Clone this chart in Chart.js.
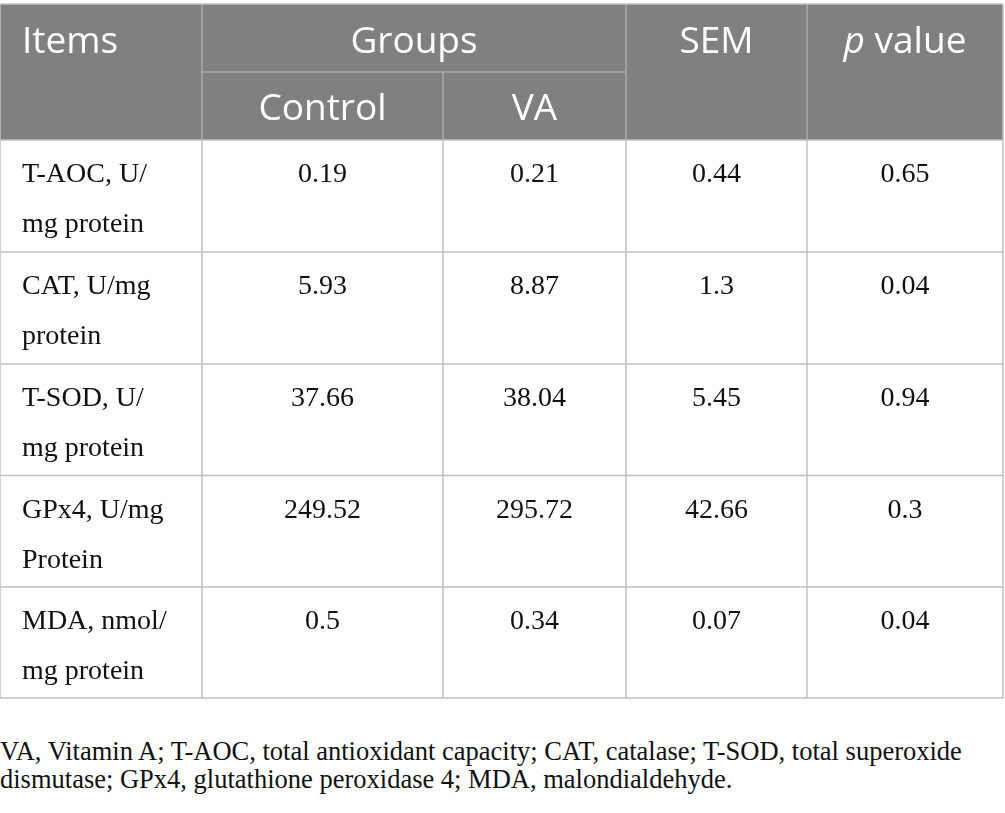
<!DOCTYPE html>
<html>
<head>
<meta charset="utf-8">
<title>Antioxidant indices</title>
<script src="https://cdn.jsdelivr.net/npm/chart.js@4.4.1/dist/chart.umd.min.js"></script>
<style>
    body { margin: 0; background: #fff; }
    #wrap { position: relative; width: 1005px; height: 813px; }
    #tableChart { position: absolute; left: 0; top: 0; }
    #note {
        position: absolute; left: 0; top: 737px; margin: 0;
        font-family: "Liberation Serif", serif; font-size: 26.5px; line-height: 28px;
        color: #111; white-space: nowrap;
    }
</style>
</head>
<body>
<div id="wrap">
    <canvas id="tableChart" width="1005" height="700"></canvas>
    <p id="note">VA, Vitamin A; T-AOC, total antioxidant capacity; CAT, catalase; T-SOD, total superoxide<br>dismutase; GPx4, glutathione peroxidase 4; MDA, malondialdehyde.</p>
</div>
<script>
// table content
const items = [
    ['T-AOC, U/', 'mg protein'],
    ['CAT, U/mg', 'protein'],
    ['T-SOD, U/', 'mg protein'],
    ['GPx4, U/mg', 'Protein'],
    ['MDA, nmol/', 'mg protein']
];
const control = [0.19, 5.93, 37.66, 249.52, 0.5];
const va = [0.21, 8.87, 38.04, 295.72, 0.34];
const sem = [0.44, 1.3, 5.45, 42.66, 0.07];
const pValue = [0.65, 0.04, 0.94, 0.3, 0.04];

// grid layout in scale units
const colEdges = [0, 202, 443, 626, 807, 1003];
const headTop = 4, headSplit = 72, headBottom = 140;
const rowEdges = [140, 252, 364, 475.5, 587, 698];

const headFont = '37px "Open Sans"';
const bodyFont = '28px "Liberation Serif"';

const tablePlugin = {
    id: 'tablePlugin',
    beforeDraw(chart) {
        const ctx = chart.ctx;
        const x = v => chart.scales.x.getPixelForValue(v);
        const y = v => chart.scales.y.getPixelForValue(v);
        const last = colEdges.length - 1;

        function line(x1, y1, x2, y2, color) {
            ctx.beginPath();
            ctx.moveTo(x(x1), y(y1));
            ctx.lineTo(x(x2), y(y2));
            ctx.strokeStyle = color;
            ctx.lineWidth = 1.5;
            ctx.stroke();
        }

        ctx.save();
        // header background
        ctx.fillStyle = '#808080';
        ctx.fillRect(x(colEdges[0]), y(headTop), x(colEdges[last]) - x(colEdges[0]), y(headBottom) - y(headTop));

        // header grid
        const headLine = '#a9a9a9';
        [1, 3, 4].forEach(i => line(colEdges[i], headTop, colEdges[i], headBottom, headLine));
        line(colEdges[2], headSplit, colEdges[2], headBottom, headLine);
        line(colEdges[1], headSplit, colEdges[3], headSplit, headLine);

        // body grid
        const bodyLine = '#c0c0c0';
        colEdges.forEach(c => line(c, headBottom, c, rowEdges[rowEdges.length - 1], bodyLine));
        rowEdges.forEach(r => line(colEdges[0], r, colEdges[last], r, bodyLine));
        line(colEdges[0], headTop, colEdges[last], headTop, bodyLine);
        line(colEdges[0], headTop, colEdges[0], headBottom, bodyLine);
        line(colEdges[last], headTop, colEdges[last], headBottom, bodyLine);

        // header text
        ctx.fillStyle = '#ffffff';
        ctx.font = headFont;
        ctx.textBaseline = 'alphabetic';
        ctx.textAlign = 'left';
        ctx.fillText('Items', x(colEdges[0] + 22), y(headTop + 49));
        ctx.textAlign = 'center';
        ctx.fillText('Groups', x((colEdges[1] + colEdges[3]) / 2), y(headTop + 49));
        ctx.fillText('SEM', x((colEdges[3] + colEdges[4]) / 2), y(headTop + 49));
        ctx.fillText('Control', x((colEdges[1] + colEdges[2]) / 2), y(headSplit + 48));
        ctx.fillText('VA', x((colEdges[2] + colEdges[3]) / 2), y(headSplit + 48));

        // "p value" with italic p
        ctx.textAlign = 'left';
        ctx.font = 'italic ' + headFont;
        const pw = ctx.measureText('p').width;
        ctx.font = headFont;
        const vw = ctx.measureText(' value').width;
        const px = x((colEdges[4] + colEdges[5]) / 2) - (pw + vw) / 2;
        ctx.font = 'italic ' + headFont;
        ctx.fillText('p', px, y(headTop + 49));
        ctx.font = headFont;
        ctx.fillText(' value', px + pw, y(headTop + 49));

        // body text
        ctx.fillStyle = '#111111';
        ctx.font = bodyFont;
        const columns = [control, va, sem, pValue];
        items.forEach((label, r) => {
            const top = rowEdges[r];
            ctx.textAlign = 'left';
            label.forEach((part, k) => ctx.fillText(part, x(colEdges[0] + 22), y(top + 42 + k * 50)));
            ctx.textAlign = 'center';
            columns.forEach((col, c) => {
                ctx.fillText(String(col[r]), x((colEdges[c + 1] + colEdges[c + 2]) / 2), y(top + 42));
            });
        });
        ctx.restore();
    }
};

const chartEl = document.getElementById('tableChart');

new Chart(chartEl, {
    type: 'scatter',
    data: { datasets: [] },
    options: {
        responsive: false,
        animation: false,
        layout: { padding: 0 },
        plugins: {
            legend: { display: false },
            tooltip: { enabled: false }
        },
        scales: {
            x: { type: 'linear', min: 0, max: 1005, display: false },
            y: { type: 'linear', min: 0, max: 700, reverse: true, display: false }
        }
    },
    plugins: [tablePlugin]
});
</script>
</body>
</html>
